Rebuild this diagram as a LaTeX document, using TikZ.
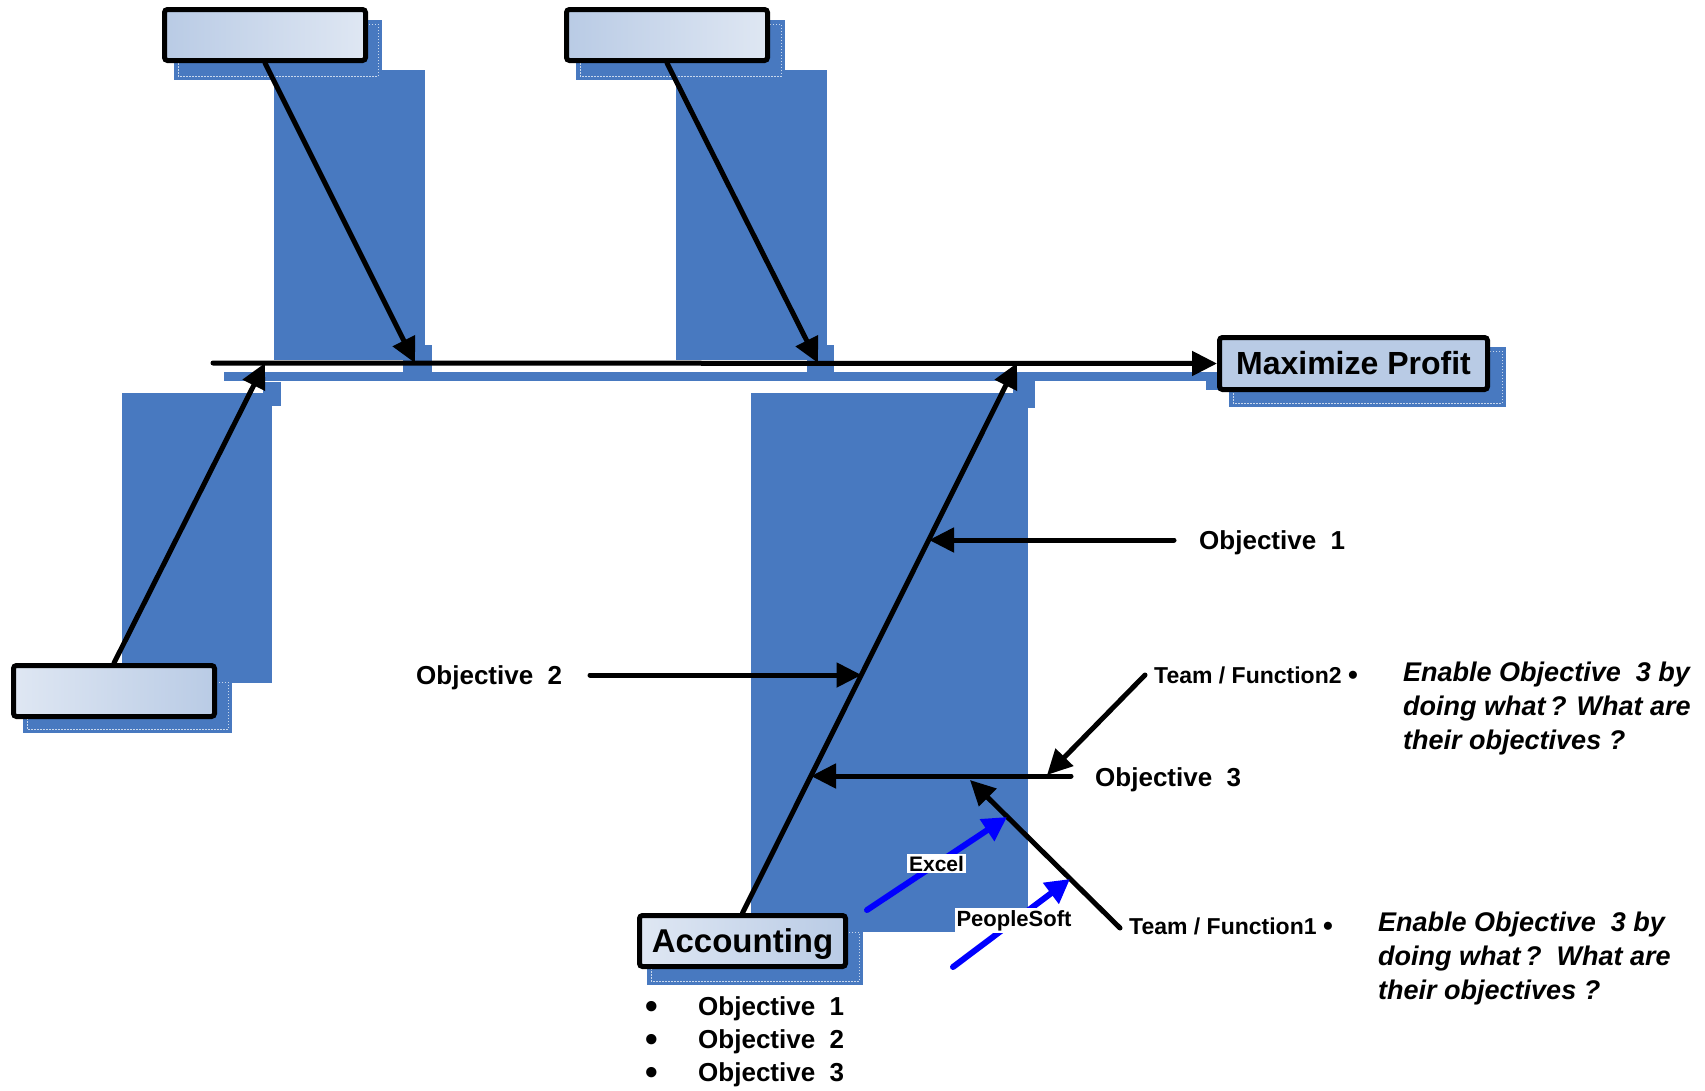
\documentclass[tikz,border=0pt]{standalone}
\usepackage{fontspec}
\setmainfont{Liberation Sans}
\usetikzlibrary{arrows.meta}
\definecolor{sblue}{RGB}{72,121,192}
\definecolor{boxdark}{RGB}{185,203,229}
\definecolor{boxlight}{RGB}{223,231,243}
\definecolor{toolblue}{RGB}{0,0,255}
\newcommand{\bigdot}{\raisebox{-3pt}{\fontsize{36}{36}\selectfont\textbullet}}
\newcommand{\teamdot}{\raisebox{-1.5pt}{\fontsize{28}{28}\selectfont\textbullet}}

\begin{document}
\begin{tikzpicture}[x=1pt,y=-1pt,
  slab/.style={fill=sblue},
  seam/.style={draw=white, draw opacity=0.7, line width=0.8pt, dash pattern=on 1.5pt off 1.5pt},
  catbox/.style={draw=black, line width=5pt, rounded corners=3pt,
    minimum width=201pt, minimum height=51pt, inner sep=0pt},
  bone/.style={line width=5pt, line cap=round, -{Triangle[length=25pt,width=24pt]}},
  tool/.style={draw=toolblue, line width=6pt, line cap=round, -{Triangle[length=24pt,width=25pt]}},
  lbl/.style={font=\bfseries\fontsize{26}{31}\selectfont, inner sep=0pt, anchor=base west},
  team/.style={font=\bfseries\fontsize{23}{28}\selectfont, inner sep=0pt, anchor=base west},
  ask/.style={font=\bfseries\itshape\fontsize{27}{34}\selectfont, inner sep=0pt, anchor=base west},
  tag/.style={fill=white, inner sep=2pt}
]
\useasboundingbox (0,0) rectangle (1705,1090);

% background slabs behind the bones
\fill[slab] (274,70) rectangle (425,360);
\fill[slab] (403,345) rectangle (432,372);
\fill[slab] (676,70) rectangle (827,360);
\fill[slab] (807,345) rectangle (834,372);
\fill[slab] (224,372) rectangle (1207,381);
\fill[slab] (1206,372) rectangle (1218,390);
\fill[slab] (122,393) rectangle (272,683);
\fill[slab] (263,382) rectangle (281,406);
\fill[slab] (751,393) rectangle (1028,932);
\fill[slab] (1013,372) rectangle (1035,408);

% box shadows with their dashed inner edge
\fill[slab] (174,20) rectangle (382,80);   \draw[seam] (178,24) rectangle (378,76);
\fill[slab] (576,20) rectangle (785,80);   \draw[seam] (580,24) rectangle (781,76);
\fill[slab] (23,678) rectangle (232,733);  \draw[seam] (27,682) rectangle (228,729);
\fill[slab] (1229,347) rectangle (1506,407); \draw[seam] (1233,351) rectangle (1502,403);
\fill[slab] (647,928) rectangle (863,985); \draw[seam] (651,932) rectangle (859,981);

% category boxes
\node[catbox, left color=boxdark, right color=boxlight] (tl) at (265,35) {};
\node[catbox, left color=boxdark, right color=boxlight] (tm) at (667,35) {};
\node[catbox, left color=boxlight, right color=boxdark] (ll) at (114,691) {};
\node[catbox, fill=boxdark, minimum width=268pt, minimum height=52pt,
  font=\bfseries\fontsize{32}{38}\selectfont] (mp) at (1353.5,363.5) {Maximize Profit};
\node[catbox, left color=boxlight, right color=boxdark, minimum width=206pt, text depth=0pt,
  font=\bfseries\fontsize{33}{39}\selectfont] (acc) at (742.5,941) {Accounting};

% spine and main bones
\coordinate (tail) at (213,363);
\coordinate (j1) at (415,363);
\coordinate (j2) at (818,363);
\coordinate (j3) at (265,363);
\coordinate (j4) at (1017,363);
\draw[bone] (tail) -- (mp.west);
\draw[bone] (tl.south) -- (j1);
\draw[bone] (tm.south) -- (j2);
\draw[bone] (ll.north) -- (j3);
\draw[bone] (acc.north) -- (j4);

% objectives on the accounting bone
\coordinate (m1) at (929,540);
\coordinate (m2) at (861.5,675);
\coordinate (m3) at (811,776);
\coordinate (o1t) at (1174,540);
\coordinate (o2t) at (590,675);
\coordinate (o3t) at (1071,776);
\draw[bone] (o1t) -- (m1);
\draw[bone] (o2t) -- (m2);
\draw[bone] (o3t) -- (m3);

% team / function sub-bones
\coordinate (t2s) at (1145,675);
\coordinate (t2e) at (1047,775);
\coordinate (t1s) at (1120,928);
\coordinate (t1e) at (970,780);
\draw[bone] (t2s) -- (t2e);
\draw[bone] (t1s) -- (t1e);

% tools
\coordinate (xs) at (867,910);
\coordinate (xe) at (1007,817);
\coordinate (ps) at (953,967);
\coordinate (pe) at (1070,879);
\draw[tool] (xs) -- (xe);
\draw[tool] (ps) -- (pe);
\node[tag, font=\bfseries\fontsize{21}{25}\selectfont] (xl) at (936.5,863.5) {Excel};
\node[tag, font=\bfseries\fontsize{22}{26}\selectfont] (pl) at (1014,920.5) {PeopleSoft};

% labels
\node[lbl] (obj1) at (1199,549) {Objective\ \ 1};
\node[lbl] (obj2) at (416,684) {Objective\ \ 2};
\node[lbl] (obj3) at (1095,786) {Objective\ \ 3};
\node[team] (tf2) at (1154,683) {Team / Function2 \teamdot};
\node[team] (tf1) at (1129,934) {Team / Function1 \teamdot};

\node[ask] (q2a) at (1403,681) {Enable Objective\ \ 3 by};
\node[ask] (q2b) at (1403,715) {doing what\,? What are};
\node[ask] (q2c) at (1403,749) {their objectives ?};
\node[ask] (q1a) at (1378,931) {Enable Objective\ \ 3 by};
\node[ask] (q1b) at (1378,965) {doing what\,?\ \ What are};
\node[ask] (q1c) at (1378,999) {their objectives ?};

% accounting objectives list
\node[lbl] (b1) at (645,1015) {\makebox[53pt][l]{\bigdot}Objective\ \ 1};
\node[lbl] (b2) at (645,1048) {\makebox[53pt][l]{\bigdot}Objective\ \ 2};
\node[lbl] (b3) at (645,1081) {\makebox[53pt][l]{\bigdot}Objective\ \ 3};
\end{tikzpicture}
\end{document}
